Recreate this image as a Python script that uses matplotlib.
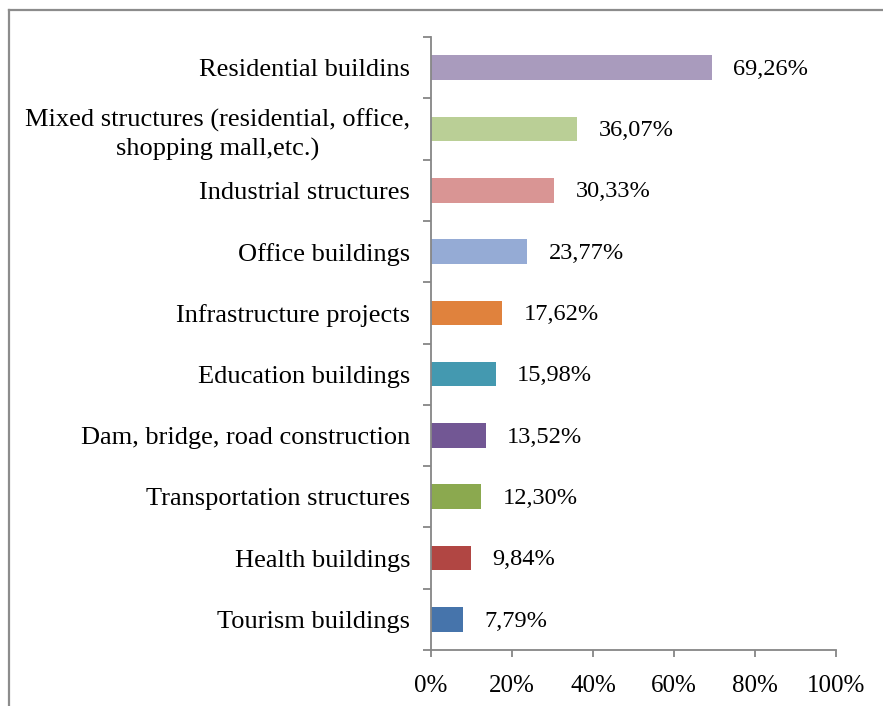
import matplotlib
matplotlib.use("Agg")
import matplotlib.pyplot as plt
from matplotlib.lines import Line2D
from matplotlib.ticker import FixedLocator

categories = [
    "Tourism buildings",
    "Health buildings",
    "Transportation structures",
    "Dam, bridge, road construction",
    "Education buildings",
    "Infrastructure projects",
    "Office buildings",
    "Industrial structures",
    "Mixed structures (residential, office,\nshopping mall,etc.)",
    "Residential buildins",
]
values = [7.79, 9.84, 12.30, 13.52, 15.98, 17.62, 23.77, 30.33, 36.07, 69.26]
colors = ["#4674AB", "#B14643", "#8BA94F", "#725794", "#4499B0",
          "#E0823D", "#95ABD5", "#D99594", "#BACF96", "#A99BBD"]
xticks = [0, 20, 40, 60, 80, 100]

plt.rcParams["font.family"] = ["Liberation Serif", "DejaVu Serif"]

W, H = 883, 706
fig = plt.figure(figsize=(W / 100, H / 100), dpi=100)
ax = fig.add_axes([431 / W, 1 - 650 / H, (836 - 431) / W, (650 - 37) / H])

y = list(range(len(categories)))
ax.barh(y, values, height=0.4, color=colors)
ax.set_xlim(0, 100)
ax.set_ylim(-0.5, len(categories) - 0.5)

for yi, v in zip(y, values):
    ax.annotate(f"{v:.2f}%".replace(".", ","), (v, yi), xytext=(15.5, -1.2),
                textcoords="offset points", ha="left", va="center",
                fontsize=17.6, color="black")

gray = "#868686"
ax.yaxis.set_minor_locator(FixedLocator([i - 0.5 for i in range(len(categories) + 1)]))
ax.tick_params(axis="y", which="minor", length=6, width=1.3, color=gray, direction="out")
ax.tick_params(axis="y", which="major", length=0, pad=15)
ax.set_yticks(y)
ax.set_yticklabels(categories, fontsize=19, ha="right", multialignment="center")

ax.set_xticks(xticks)
ax.set_xticklabels([f"{t}%" for t in xticks], fontsize=18)
ax.tick_params(axis="x", length=5, width=1.3, color=gray, pad=13)

for lbl in ax.get_yticklabels():
    lbl.set_linespacing(1.35)

for s in ["top", "right"]:
    ax.spines[s].set_visible(False)
for s in ["left", "bottom"]:
    ax.spines[s].set_color(gray)
    ax.spines[s].set_linewidth(1.3)

x0 = 8.5 / W
y0 = 1 - 9.5 / H
fig.add_artist(Line2D([x0, x0], [0, y0], transform=fig.transFigure, color="#8c8c8c", lw=1.6))
fig.add_artist(Line2D([x0, 1], [y0, y0], transform=fig.transFigure, color="#8c8c8c", lw=1.6))

fig.savefig("out.png", dpi=100)
